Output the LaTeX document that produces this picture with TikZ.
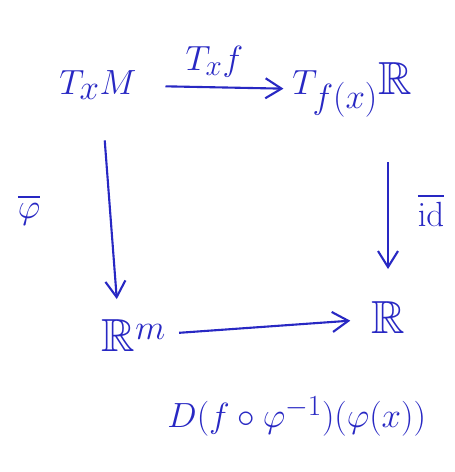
\documentclass[tikz,border=0pt]{standalone}
\usepackage{amssymb}
\usetikzlibrary{arrows.meta}
\definecolor{ink}{RGB}{40,40,195}
\tikzset{
  obj/.style={text=ink, font=\fontsize{33}{40}\selectfont},
  map/.style={draw=ink, line width=1.5pt, -{Straight Barb[length=4mm,width=5mm]}},
  lab/.style={text=ink, font=\fontsize{30}{36}\selectfont}
}
\begin{document}
\begin{tikzpicture}[x=0.025cm, y=-0.025cm]
    \useasboundingbox (0,0) rectangle (454,472);
    % Objekte
    \node[obj] (tm) at (98,85) {$T_xM$};
    \node[obj] (tr) at (352,90) {$T_{f(x)}\mathbb{R}$};
    \node[obj] (rm) at (134,336) {$\mathbb{R}^m$};
    \node[obj] (r) at (388,318) {$\mathbb{R}$};

    % Pfeile
    \draw[map, shorten <=6mm, shorten >=1mm] (tm) -- (tr) node[midway, above=1mm, lab] {$T_xf$};
    \draw[map, shorten <=9mm, shorten >=4mm] ([xshift=1mm]tm.south) -- ([xshift=-4mm]rm.north) node[midway, left=1.6cm, lab] {$\overline{\varphi}$};
    \draw[map, shorten <=10mm, shorten >=7mm] (tr.south -| r) -- (r) node[midway, right=6mm, lab] {$\overline{\mathrm{id}}$};
    \draw[map, shorten <=2mm, shorten >=4mm] (rm) -- (r) node[midway, below=1.6cm, xshift=7mm, lab] {$D(f\circ\varphi^{-1})(\varphi(x))$};
\end{tikzpicture}
\end{document}
